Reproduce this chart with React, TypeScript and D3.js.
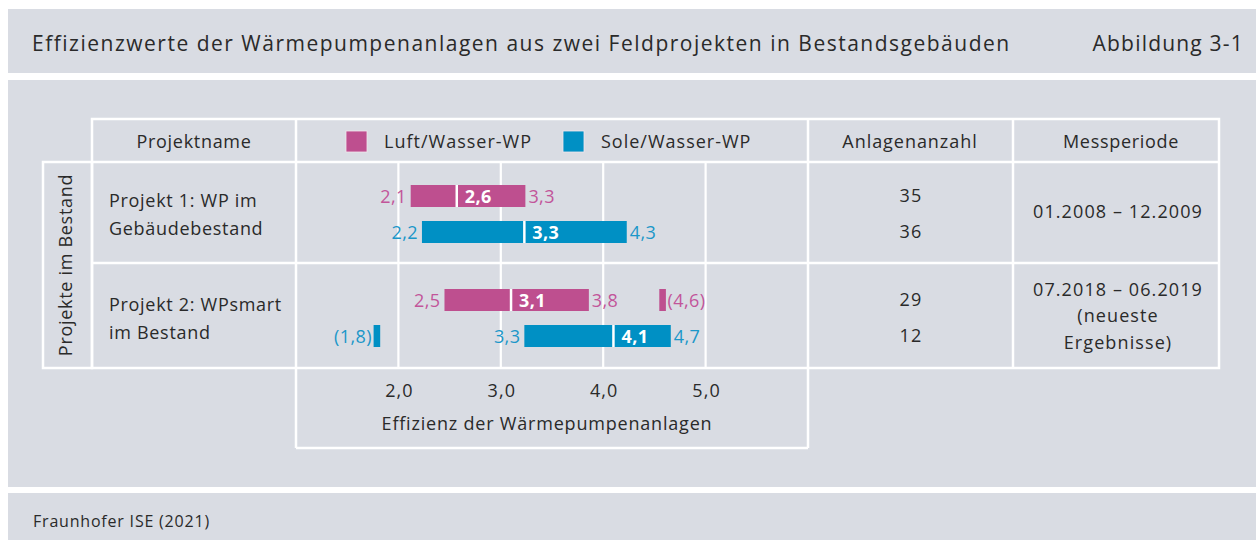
import React from "react";
import * as d3 from "d3";

const projects = ["Projekt 1", "Projekt 2"];
const projectLines = [
  ["Projekt 1: WP im", "Gebäudebestand"],
  ["Projekt 2: WPsmart", "im Bestand"],
];
const seriesNames = ["Luft/Wasser-WP", "Sole/Wasser-WP"];
const seriesColors = ["#be4f8f", "#0090c4"];
const labelColors = ["#c2559a", "#1b97c9"];

const luftMin = [2.12, 2.45];
const luftMedian = [2.57, 3.1];
const luftMax = [3.24, 3.86];
const soleMin = [2.23, 3.23];
const soleMedian = [3.23, 4.1];
const soleMax = [4.23, 4.66];

const luftMinLabel = ["2,1", "2,5"];
const luftMedianLabel = ["2,6", "3,1"];
const luftMaxLabel = ["3,3", "3,8"];
const soleMinLabel = ["2,2", "3,3"];
const soleMedianLabel = ["3,3", "4,1"];
const soleMaxLabel = ["4,3", "4,7"];

const luftOutlier: (number | null)[] = [null, 4.58];
const luftOutlierLabel = ["", "(4,6)"];
const soleOutlier: (number | null)[] = [null, 1.79];
const soleOutlierLabel = ["", "(1,8)"];

const anlagenLuft = ["35", "29"];
const anlagenSole = ["36", "12"];
const messperiode = [
  ["01.2008 – 12.2009"],
  ["07.2018 – 06.2019", "(neueste", "Ergebnisse)"],
];

const xTicks = [2, 3, 4, 5];
const xTickLabels = ["2,0", "3,0", "4,0", "5,0"];

const W = 1256;
const H = 540;
const FONT = "'Open Sans', sans-serif";
const BG = "#d9dce3";
const TXT = "#2a2a2a";

const sLabel = { fontSize: 18, letterSpacing: 0.7 } as const;
const sNum = { fontSize: 18, letterSpacing: 1.1 } as const;
const sVal = { fontSize: 18, letterSpacing: 0.4 } as const;

export default function App() {
  const x = d3.scaleLinear().domain([1, 6]).range([296, 808]);
  const row = d3.scaleBand().domain(projects).range([162, 370]);
  const off = d3.scalePoint().domain(seriesNames).range([-18, 18]);
  const barH = 22;
  const lw = 2.5;

  const series = [
    { min: luftMin, med: luftMedian, max: luftMax, minL: luftMinLabel, medL: luftMedianLabel, maxL: luftMaxLabel, out: luftOutlier, outL: luftOutlierLabel },
    { min: soleMin, med: soleMedian, max: soleMax, minL: soleMinLabel, medL: soleMedianLabel, maxL: soleMaxLabel, out: soleOutlier, outL: soleOutlierLabel },
  ];

  const rc = (p: string) => (row(p) as number) + row.bandwidth() / 2;

  return (
    <svg width={W} height={H} style={{ position: "absolute", left: 0, top: 0 }} fontFamily={FONT}>
      <rect x={0} y={0} width={W} height={H} fill="#fff" />
      <rect x={8} y={9} width={W - 8} height={64} fill={BG} />
      <rect x={8} y={80} width={W - 8} height={407} fill={BG} />
      <rect x={8} y={493} width={W - 8} height={47} fill={BG} />

      <text x={32} y={51} fontSize={21} letterSpacing={1.5} fill={TXT}>
        Effizienzwerte der Wärmepumpenanlagen aus zwei Feldprojekten in Bestandsgebäuden
      </text>
      <text x={1244} y={51} fontSize={21} letterSpacing={1.2} fill={TXT} textAnchor="end">
        Abbildung 3-1
      </text>
      <text x={33} y={527} fontSize={16} letterSpacing={0.8} fill={TXT}>
        Fraunhofer ISE (2021)
      </text>

      {/* table lines */}
      <g stroke="#fff" strokeWidth={lw} fill="none">
        <rect x={92} y={119} width={1219 - 92} height={368 - 119} />
        <line x1={92} x2={1219} y1={162} y2={162} />
        <line x1={92} x2={1219} y1={263} y2={263} />
        <rect x={43} y={162} width={92 - 43} height={368 - 162} />
        <line x1={296} x2={296} y1={119} y2={448} />
        <line x1={808} x2={808} y1={119} y2={448} />
        <line x1={296} x2={808} y1={448} y2={448} />
        <line x1={1013} x2={1013} y1={119} y2={368} />
        {xTicks.map((t) => (
          <line key={t} x1={x(t)} x2={x(t)} y1={162} y2={368} strokeWidth={2.2} />
        ))}
      </g>

      {/* header */}
      <text x={194} y={148} {...sLabel} fill={TXT} textAnchor="middle">Projektname</text>
      <text x={910} y={148} {...sLabel} letterSpacing={0.95} fill={TXT} textAnchor="middle">Anlagenanzahl</text>
      <text x={1121} y={148} {...sLabel} fill={TXT} textAnchor="middle">Messperiode</text>
      {seriesNames.map((s, i) => {
        const lx = [346, 563][i];
        return (
          <g key={s}>
            <rect x={lx} y={131} width={21} height={21} fill={seriesColors[i]} stroke="#f3e6ee" strokeWidth={0.8} />
            <text x={lx + 38} y={148} fontSize={18} letterSpacing={1.0} fill={TXT}>{s}</text>
          </g>
        );
      })}

      {/* left rotated label */}
      <text transform="translate(72,265) rotate(-90)" {...sLabel} fill={TXT} textAnchor="middle">
        Projekte im Bestand
      </text>

      {/* row labels and table values */}
      {projects.map((p, pi) => {
        const c = rc(p);
        const lines = messperiode[pi];
        return (
          <g key={p}>
            {projectLines[pi].map((l, li) => (
              <text key={li} x={109} y={c + 7 + (li - 0.5) * 28.6} {...sLabel} fill={TXT}>{l}</text>
            ))}
            <text x={911} y={c + off(seriesNames[0])! + 6} {...sNum} fill={TXT} textAnchor="middle">{anlagenLuft[pi]}</text>
            <text x={911} y={c + off(seriesNames[1])! + 6} {...sNum} fill={TXT} textAnchor="middle">{anlagenSole[pi]}</text>
            {lines.map((l, li) => (
              <text key={li} x={1118} y={c + 4 + (li - (lines.length - 1) / 2) * 26.5} {...sNum} fill={TXT} textAnchor="middle">{l}</text>
            ))}
          </g>
        );
      })}

      {/* bars */}
      {projects.map((p, pi) =>
        series.map((s, si) => {
          const yc = rc(p) + (off(seriesNames[si]) as number);
          const y0 = yc - barH / 2;
          const x0 = x(s.min[pi]);
          const x1 = x(s.max[pi]);
          const xm = x(s.med[pi]);
          const o = s.out[pi];
          return (
            <g key={p + si}>
              <rect x={x0} y={y0} width={x1 - x0} height={barH} fill={seriesColors[si]} />
              <line x1={xm} x2={xm} y1={y0} y2={y0 + barH} stroke="#fff" strokeWidth={2.5} />
              <text x={xm + 8} y={yc + 6.5} fontSize={18} letterSpacing={0.4} fontWeight={700} fill="#fff">{s.medL[pi]}</text>
              <text x={x0 - 4} y={yc + 6.5} {...sVal} fill={labelColors[si]} textAnchor="end">{s.minL[pi]}</text>
              <text x={x1 + 3} y={yc + 6.5} {...sVal} fill={labelColors[si]}>{s.maxL[pi]}</text>
              {o !== null && (
                <g>
                  <rect x={x(o) - 3.3} y={y0} width={6.6} height={barH} fill={seriesColors[si]} />
                  {x(o) > x(s.max[pi]) ? (
                    <text x={x(o) + 5} y={yc + 6.5} {...sVal} fill={labelColors[si]}>{s.outL[pi]}</text>
                  ) : (
                    <text x={x(o) - 5} y={yc + 6.5} {...sVal} fill={labelColors[si]} textAnchor="end">{s.outL[pi]}</text>
                  )}
                </g>
              )}
            </g>
          );
        })
      )}

      {/* axis */}
      {xTicks.map((t, i) => (
        <text key={t} x={x(t) + 1} y={397} {...sNum} fill={TXT} textAnchor="middle">{xTickLabels[i]}</text>
      ))}
      <text x={547} y={430} {...sLabel} letterSpacing={0.8} fill={TXT} textAnchor="middle">Effizienz der Wärmepumpenanlagen</text>
    </svg>
  );
}
